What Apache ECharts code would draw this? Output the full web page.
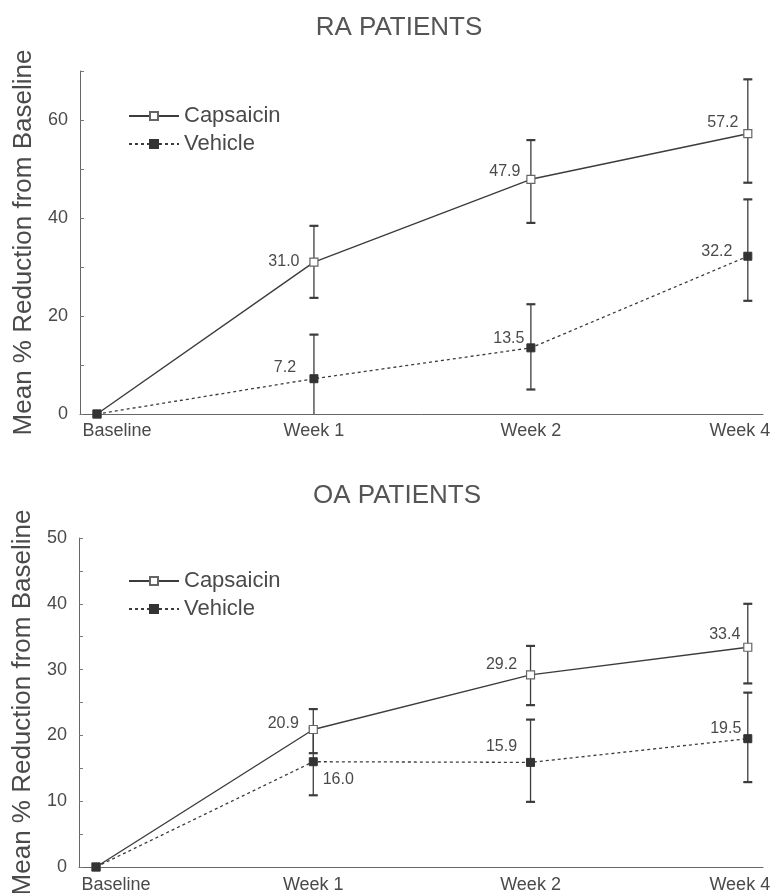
<!DOCTYPE html>
<html>
<head>
<meta charset="utf-8">
<script src="https://cdn.jsdelivr.net/npm/echarts@6/dist/echarts.min.js"></script>
<style>
  html, body { margin: 0; padding: 0; background: #fff; }
  #chart { width: 775px; height: 893px; }
</style>
</head>
<body>
<div id="chart"></div>
<script>
// values
const categories = ['Baseline', 'Week 1', 'Week 2', 'Week 4'];

const raCapsaicin = [0, 31.0, 47.9, 57.2];
const raCapsaicinLow = [null, 23.7, 39.0, 47.2];
const raCapsaicinHigh = [null, 38.4, 55.9, 68.3];
const raVehicle = [0, 7.2, 13.5, 32.2];
const raVehicleLow = [null, -1.8, 5.0, 23.1];
const raVehicleHigh = [null, 16.2, 22.4, 43.8];

const oaCapsaicin = [0, 20.9, 29.2, 33.4];
const oaCapsaicinLow = [null, 17.3, 24.6, 27.9];
const oaCapsaicinHigh = [null, 24.0, 33.6, 40.0];
const oaVehicle = [0, 16.0, 15.9, 19.5];
const oaVehicleLow = [null, 10.9, 9.9, 12.9];
const oaVehicleHigh = [null, 21.1, 22.4, 26.5];

const raTickLabels = [0, 20, 40, 60];
const oaTickLabels = [0, 10, 20, 30, 40, 50];

const FONT = '"Liberation Sans", Arial, Helvetica, sans-serif';
const INK = '#3c3c3c';
const TEXT = '#4a4a4a';

// where each value label sits relative to its marker (px)
const raCapsOffsets = [null, [-30, -1], [-26, -8], [-25, -11]];
const raVehOffsets = [null, [-29, -11], [-22, -9], [-31, -5]];
const oaCapsOffsets = [null, [-30, -6], [-29, -10], [-23, -13]];
const oaVehOffsets = [null, [25, 18], [-29, -16], [-22, -10]];

function lineData(values, offsets) {
  return values.map(function (v, i) {
    const item = { value: [i, v] };
    if (offsets[i]) {
      item.label = { show: true, offset: offsets[i] };
    }
    return item;
  });
}

function errData(low, high) {
  const out = [];
  low.forEach(function (l, i) {
    if (l !== null) out.push([i, l, high[i]]);
  });
  return out;
}

function renderErr(params, api) {
  const x = api.value(0);
  const lo = api.coord([x, api.value(1)]);
  const hi = api.coord([x, api.value(2)]);
  const w = 4.5;
  const st = { stroke: INK, lineWidth: 1.3 };
  const cap = { stroke: INK, lineWidth: 2.2 };
  return {
    type: 'group',
    children: [
      { type: 'line', shape: { x1: lo[0], y1: lo[1], x2: hi[0], y2: hi[1] }, style: st },
      { type: 'line', shape: { x1: hi[0] - w, y1: hi[1], x2: hi[0] + w, y2: hi[1] }, style: cap },
      { type: 'line', shape: { x1: lo[0] - w, y1: lo[1], x2: lo[0] + w, y2: lo[1] }, style: cap }
    ]
  };
}

function xAxis(gridIndex, margin) {
  return {
    type: 'value',
    gridIndex: gridIndex,
    min: -0.0784,
    max: 3.07,
    splitLine: { show: false },
    axisTick: { show: false },
    axisLine: { onZero: false, lineStyle: { color: '#666', width: 1 } },
    axisLabel: {
      customValues: [0, 1, 2, 3],
      margin: margin,
      color: TEXT,
      fontFamily: FONT,
      fontSize: 18,
      formatter: function (v) {
        const i = Math.round(v);
        if (i === 0) return '{first|' + categories[i] + '}';
        if (i === categories.length - 1) return '{last|' + categories[i] + '}';
        return categories[i];
      },
      rich: {
        first: { padding: [0, 0, 0, 40], fontSize: 18, color: TEXT, fontFamily: FONT },
        last: { padding: [0, 16, 0, 0], fontSize: 18, color: TEXT, fontFamily: FONT }
      }
    }
  };
}

function yAxis(gridIndex, max, interval, ticks, nameGap) {
  return {
    type: 'value',
    gridIndex: gridIndex,
    min: 0,
    max: max,
    interval: interval,
    name: 'Mean % Reduction from Baseline',
    nameLocation: 'middle',
    nameGap: nameGap,
    nameTextStyle: { color: TEXT, fontFamily: FONT, fontSize: 26 },
    splitLine: { show: false },
    axisLine: { show: true, onZero: false, lineStyle: { color: '#666', width: 1 } },
    axisTick: { show: true, inside: true, length: 4, lineStyle: { color: '#777' } },
    axisLabel: {
      margin: 12,
      color: TEXT,
      fontFamily: FONT,
      fontSize: 18,
      formatter: function (v) {
        return ticks.indexOf(v) >= 0 ? String(v) : '';
      }
    }
  };
}

function lineSeries(name, idx, values, offsets, dashed) {
  return {
    name: name,
    type: 'line',
    xAxisIndex: idx,
    yAxisIndex: idx,
    z: dashed ? 4 : 3,
    symbol: 'rect',
    symbolSize: 8,
    data: lineData(values, offsets),
    lineStyle: { color: INK, width: dashed ? 1.3 : 1.4, type: dashed ? [3, 3] : 'solid' },
    itemStyle: dashed
      ? { color: '#333', borderColor: '#333', borderWidth: 1 }
      : { color: '#fff', borderColor: '#666', borderWidth: 1.2 },
    label: {
      show: false,
      position: 'inside',
      color: TEXT,
      fontFamily: FONT,
      fontSize: 16,
      formatter: function (p) { return p.value[1].toFixed(1); }
    },
    emphasis: { disabled: true },
    animation: false
  };
}

function errSeries(idx, low, high) {
  return {
    type: 'custom',
    xAxisIndex: idx,
    yAxisIndex: idx,
    clip: true,
    z: 2,
    renderItem: renderErr,
    encode: { x: 0, y: [1, 2] },
    data: errData(low, high),
    silent: true,
    animation: false
  };
}

function legend(top) {
  return {
    orient: 'vertical',
    left: 123,
    top: top,
    itemWidth: 50,
    itemHeight: 10,
    itemGap: 6,
    textStyle: { color: TEXT, fontFamily: FONT, fontSize: 22 },
    data: ['Capsaicin', 'Vehicle'],
    selectedMode: false
  };
}

const chart = echarts.init(document.getElementById('chart'), null, { renderer: 'canvas' });

chart.setOption({
  backgroundColor: '#fff',
  animation: false,
  title: [
    { text: 'RA PATIENTS', left: 394, top: 10, textAlign: 'center',
      textStyle: { color: '#555', fontFamily: FONT, fontSize: 26, fontWeight: 'normal' } },
    { text: 'OA PATIENTS', left: 392, top: 478, textAlign: 'center',
      textStyle: { color: '#555', fontFamily: FONT, fontSize: 26, fontWeight: 'normal' } }
  ],
  legend: [legend(100), legend(565)],
  grid: [
    { left: 80, right: 12, top: 71, height: 343, outerBoundsMode: 'none' },
    { left: 79, right: 12, top: 538, height: 329, outerBoundsMode: 'none' }
  ],
  xAxis: [xAxis(0, 8), xAxis(1, 9)],
  yAxis: [
    yAxis(0, 70, 10, raTickLabels, 42),
    yAxis(1, 50, 5, oaTickLabels, 42)
  ],
  series: [
    errSeries(0, raCapsaicinLow, raCapsaicinHigh),
    errSeries(0, raVehicleLow, raVehicleHigh),
    lineSeries('Capsaicin', 0, raCapsaicin, raCapsOffsets, false),
    lineSeries('Vehicle', 0, raVehicle, raVehOffsets, true),
    errSeries(1, oaCapsaicinLow, oaCapsaicinHigh),
    errSeries(1, oaVehicleLow, oaVehicleHigh),
    lineSeries('Capsaicin', 1, oaCapsaicin, oaCapsOffsets, false),
    lineSeries('Vehicle', 1, oaVehicle, oaVehOffsets, true)
  ]
});
</script>
</body>
</html>
